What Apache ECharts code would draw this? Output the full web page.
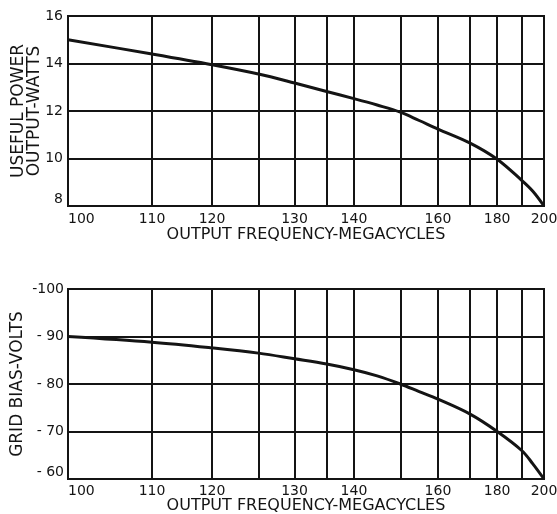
<!DOCTYPE html>
<html><head><meta charset="utf-8">
<script src="https://cdn.jsdelivr.net/npm/echarts@6/dist/echarts.min.js"></script>
<style>html,body{margin:0;padding:0;background:#fff}#c{width:557px;height:514px}</style>
</head><body><div id="c"></div>
<script>
// Non-uniform frequency scale of the original graph paper:
// gridline frequencies (MHz) and their relative position along the axis (0-100)
const gridFreqs = [100, 110, 120, 125, 130, 135, 140, 150, 160, 170, 180, 190, 200];
const gridScale = [0, 17.65, 30.26, 40.0, 47.6, 54.33, 60.07, 69.82, 77.72, 84.38, 90.16, 95.31, 100];
const xTickLabels = [100, 110, 120, 130, 140, 160, 180, 200];
const powerTicks = [8, 10, 12, 14, 16];
const biasTicks = [-100, -90, -80, -70, -60];

// Data
const freqMHz = [100, 110, 120, 125, 130, 135, 140, 145, 150, 155, 160, 170, 180, 190, 195, 200];
const powerW  = [15.0, 14.4, 13.95, 13.56, 13.18, 12.82, 12.52, 12.25, 11.95, 11.6, 11.24, 10.66, 9.97, 9.08, 8.62, 8.0];
const biasV   = [-90.0, -88.8, -87.6, -86.5, -85.3, -84.2, -83.0, -81.7, -80.0, -78.4, -76.8, -73.7, -70.0, -66.0, -63.2, -60.0];

function toScale(f) {
  for (let k = 0; k < gridFreqs.length - 1; k++) {
    if (f <= gridFreqs[k + 1]) {
      const t = (f - gridFreqs[k]) / (gridFreqs[k + 1] - gridFreqs[k]);
      return gridScale[k] + t * (gridScale[k + 1] - gridScale[k]);
    }
  }
  return gridScale[gridScale.length - 1];
}
function fromScale(v) {
  for (let k = 0; k < gridScale.length - 1; k++) {
    if (v <= gridScale[k + 1] + 1e-9) {
      const t = (v - gridScale[k]) / (gridScale[k + 1] - gridScale[k]);
      return Math.round(gridFreqs[k] + t * (gridFreqs[k + 1] - gridFreqs[k]));
    }
  }
  return gridFreqs[gridFreqs.length - 1];
}

const FONT = 'DejaVu Sans';
const INK = '#141414';

function xAxisFor(i, nameGap, labelMargin) {
  return {
    type: 'value', gridIndex: i, min: 0, max: 100,
    axisLine: { show: false },
    axisTick: { show: false, customValues: gridFreqs.map(toScale) },
    splitLine: { show: true, lineStyle: { color: INK, width: 2 } },
    axisLabel: {
      customValues: xTickLabels.map(toScale),
      formatter: v => String(fromScale(v)),
      fontFamily: FONT, fontSize: 14, color: INK, margin: labelMargin,
      alignMinLabel: 'left'
    },
    name: 'OUTPUT FREQUENCY-MEGACYCLES', nameLocation: 'middle', nameGap: nameGap,
    nameMoveOverlap: false,
    nameTextStyle: { fontFamily: FONT, fontSize: 16, color: INK }
  };
}

const chart = echarts.init(document.getElementById('c'), null, { renderer: 'canvas' });
chart.setOption({
  animation: false,
  backgroundColor: '#ffffff',
  grid: [
    { left: 68, top: 16, width: 476, height: 190, show: true, borderColor: INK, borderWidth: 2, backgroundColor: 'transparent', outerBoundsMode: 'none', containLabel: false },
    { left: 68, top: 289, width: 476, height: 190, show: true, borderColor: INK, borderWidth: 2, backgroundColor: 'transparent', outerBoundsMode: 'none', containLabel: false }
  ],
  xAxis: [xAxisFor(0, 21, 6), xAxisFor(1, 19, 5)],
  yAxis: [
    {
      type: 'value', gridIndex: 0, min: powerTicks[0], max: powerTicks[powerTicks.length - 1], interval: 2,
      axisLine: { show: false }, axisTick: { show: false },
      splitLine: { show: true, lineStyle: { color: INK, width: 2 } },
      axisLabel: { fontFamily: FONT, fontSize: 14, color: INK, margin: 5, verticalAlignMinLabel: 'bottom' },
      name: 'USEFUL POWER\nOUTPUT-WATTS', nameLocation: 'middle', nameRotate: 90, nameGap: 25,
      nameMoveOverlap: false,
      nameTextStyle: { fontFamily: FONT, fontSize: 17, lineHeight: 16, color: INK }
    },
    {
      type: 'value', gridIndex: 1, min: biasTicks[0], max: biasTicks[biasTicks.length - 1], interval: 10, inverse: true,
      axisLine: { show: false }, axisTick: { show: false },
      splitLine: { show: true, lineStyle: { color: INK, width: 2 } },
      axisLabel: {
        fontFamily: FONT, fontSize: 14, color: INK, margin: 4, verticalAlignMaxLabel: 'bottom',
        formatter: v => v === -100 ? '-100' : '- ' + Math.abs(v)
      },
      name: 'GRID BIAS-VOLTS', nameLocation: 'middle', nameRotate: 90, nameGap: 42,
      nameMoveOverlap: false,
      nameTextStyle: { fontFamily: FONT, fontSize: 17, color: INK }
    }
  ],
  series: [
    {
      type: 'line', xAxisIndex: 0, yAxisIndex: 0, showSymbol: false, smooth: 0.35, z: 5,
      lineStyle: { color: INK, width: 3 },
      data: freqMHz.map((f, i) => [toScale(f), powerW[i]])
    },
    {
      type: 'line', xAxisIndex: 1, yAxisIndex: 1, showSymbol: false, smooth: 0.35, z: 5,
      lineStyle: { color: INK, width: 3 },
      data: freqMHz.map((f, i) => [toScale(f), biasV[i]])
    }
  ]
});
</script>
</body></html>
